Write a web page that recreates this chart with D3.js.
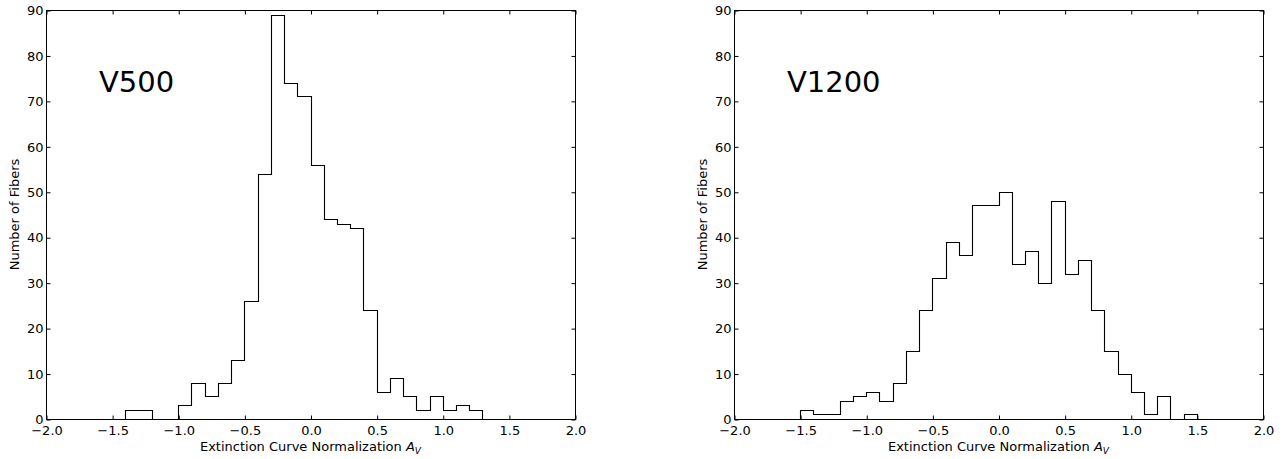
<!DOCTYPE html>
<html>
<head>
<meta charset="utf-8">
<script src="https://cdn.jsdelivr.net/npm/d3@7"></script>
<style>
  html, body { margin: 0; padding: 0; background: #fff; }
  svg { display: block; font-family: "DejaVu Sans", sans-serif; }
  .tick text { font-size: 13px; fill: #000; }
  .domain { display: none; }
</style>
</head>
<body>
<svg id="chart" width="1288" height="459"></svg>
<script>
// Bin left edges (width 0.1) and counts
const binWidth = 0.1;
const v500Start = -1.4;
const v500Counts = [2, 2, 0, 0, 3, 8, 5, 8, 13, 26, 54, 89, 74, 71, 56, 44, 43, 42, 24, 6, 9, 5, 2, 5, 2, 3, 2];
const v1200Start = -1.5;
const v1200Counts = [2, 1, 1, 4, 5, 6, 4, 8, 15, 24, 31, 39, 36, 47, 47, 50, 34, 37, 30, 48, 32, 35, 24, 15, 10, 6, 1, 5, 0, 1];
const xTicks = [-2.0, -1.5, -1.0, -0.5, 0.0, 0.5, 1.0, 1.5, 2.0];
const yTicks = [0, 10, 20, 30, 40, 50, 60, 70, 80, 90];
const panelLabels = ["V500", "V1200"];
const xLabel = "Extinction Curve Normalization ";
const yLabel = "Number of Fibers";

const svg = d3.select("#chart");

const panels = [
  { left: 46, right: 575, start: v500Start, counts: v500Counts, label: panelLabels[0] },
  { left: 734, right: 1263, start: v1200Start, counts: v1200Counts, label: panelLabels[1] }
];
const plotTop = 10, plotBottom = 419;

panels.forEach(p => {
  const x = d3.scaleLinear().domain([-2, 2]).range([p.left, p.right]);
  const y = d3.scaleLinear().domain([0, 90]).range([plotBottom, plotTop]);
  const g = svg.append("g");

  // histogram step outline
  const pts = [];
  p.counts.forEach((c, i) => {
    const x0 = +(p.start + i * binWidth).toFixed(2);
    const x1 = +(p.start + (i + 1) * binWidth).toFixed(2);
    if (i === 0) pts.push([x0, 0]);
    pts.push([x0, c]);
    pts.push([x1, c]);
    if (i === p.counts.length - 1) pts.push([x1, 0]);
  });
  g.append("path")
    .attr("d", d3.line().x(d => Math.round(x(d[0])) + 0.5).y(d => Math.round(y(d[1])) + 0.5)(pts))
    .attr("fill", "none")
    .attr("stroke", "#000")
    .attr("stroke-width", 1.1);

  // axes (ticks pointing inward)
  const fmtX = d3.format(".1f");
  g.append("g").attr("transform", `translate(0.5,${plotBottom + 0.5})`)
    .call(d3.axisBottom(x).tickValues(xTicks).tickFormat(fmtX).tickSizeInner(-4).tickSizeOuter(0).tickPadding(6))
    .call(s => s.selectAll("line").attr("stroke", "#000"));
  g.append("g").attr("transform", `translate(0.5,${plotTop + 0.5})`)
    .call(d3.axisTop(x).tickValues(xTicks).tickFormat("").tickSizeInner(-4).tickSizeOuter(0))
    .call(s => s.selectAll("line").attr("stroke", "#000"));
  g.append("g").attr("transform", `translate(${p.left + 0.5},0.5)`)
    .call(d3.axisLeft(y).tickValues(yTicks).tickFormat(d3.format("d")).tickSizeInner(-4).tickSizeOuter(0).tickPadding(3))
    .call(s => s.selectAll("line").attr("stroke", "#000"));
  g.append("g").attr("transform", `translate(${p.right + 0.5},0.5)`)
    .call(d3.axisRight(y).tickValues(yTicks).tickFormat("").tickSizeInner(-4).tickSizeOuter(0))
    .call(s => s.selectAll("line").attr("stroke", "#000"));
  g.selectAll(".tick text").attr("fill", "#000").style("font-family", "DejaVu Sans");

  // frame
  g.append("rect")
    .attr("x", p.left + 0.5).attr("y", plotTop + 0.5)
    .attr("width", p.right - p.left).attr("height", plotBottom - plotTop)
    .attr("fill", "none").attr("stroke", "#000").attr("stroke-width", 1);

  // panel label
  g.append("text")
    .attr("x", x(-1.6)).attr("y", 92)
    .attr("font-size", 29)
    .attr("fill", "#000")
    .text(p.label);

  // x label
  const xl = g.append("text")
    .attr("x", (p.left + p.right) / 2).attr("y", 451)
    .attr("text-anchor", "middle")
    .attr("font-size", 13)
    .attr("fill", "#000");
  xl.append("tspan").text(xLabel);
  xl.append("tspan").attr("font-style", "italic").text("A");
  xl.append("tspan").attr("font-style", "italic").attr("font-size", 9).attr("dy", 3).text("V");

  // y label
  g.append("text")
    .attr("transform", `translate(${p.left - 27},${(plotTop + plotBottom) / 2}) rotate(-90)`)
    .attr("text-anchor", "middle")
    .attr("font-size", 13)
    .attr("fill", "#000")
    .text(yLabel);
});
</script>
</body>
</html>
